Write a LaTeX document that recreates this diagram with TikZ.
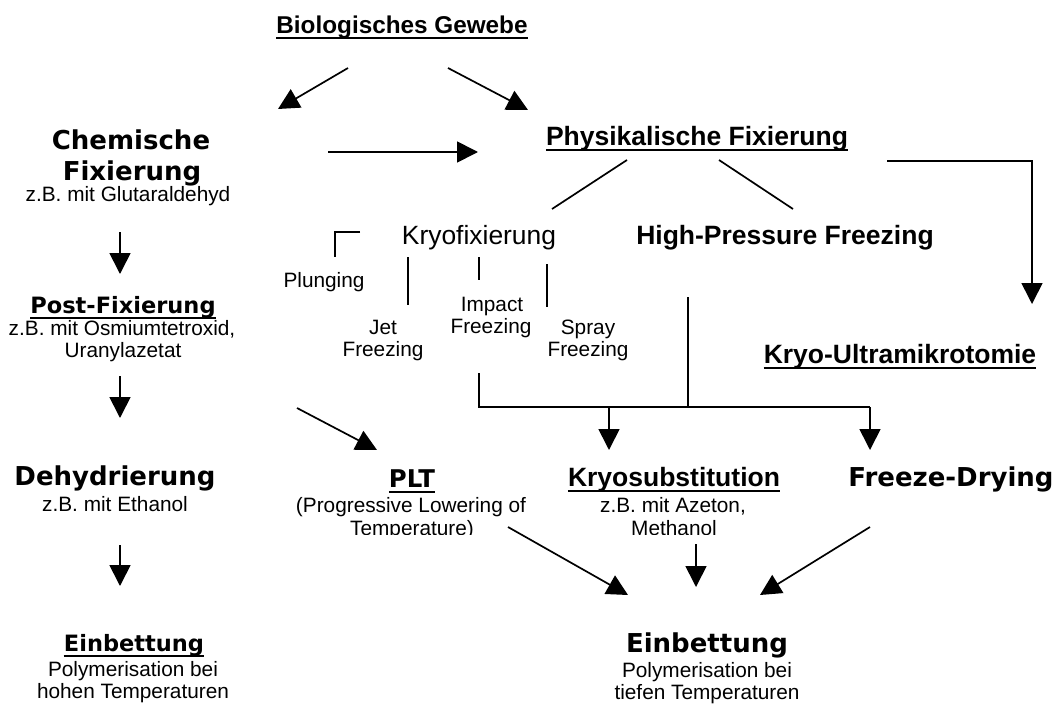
\documentclass[tikz,border=0pt]{standalone}
\usepackage{fontspec}
\setmainfont{Liberation Sans}
\newfontfamily\verd{DejaVu Sans}
\usetikzlibrary{arrows.meta}
\newcommand\myul[2][5pt]{\draw[uline] ([yshift=-#1]#2.base west) -- ([yshift=-#1]#2.base east);}
\begin{document}
\begin{tikzpicture}[x=1pt,y=-1pt,
  txt/.style={inner sep=0pt, anchor=base},
  bA/.style={txt, font=\fontsize{26.5}{30}\selectfont\bfseries},
  bAt/.style={txt, font=\fontsize{24.3}{28}\selectfont\bfseries},
  rA/.style={txt, font=\fontsize{20.8}{24}\selectfont},
  rAl/.style={txt, font=\fontsize{26.4}{30}\selectfont},
  bV/.style={txt, font=\verd\fontsize{26}{30}\selectfont\bfseries},
  bVm/.style={txt, font=\verd\fontsize{24.4}{28}\selectfont\bfseries},
  bVs/.style={txt, font=\verd\fontsize{22.5}{26}\selectfont\bfseries},
  conn/.style={line width=1.7pt},
  arr/.style={conn, -{Triangle[length=21pt,width=21pt]}},
  uline/.style={line width=2pt}]
\useasboundingbox (0,0) rectangle (1060,704);

% ---- texts ----
\node[bAt] (bio) at (402,33) {Biologisches Gewebe}; \myul{bio}
\node[bV] (chem1) at (131,149) {Chemische};
\node[bV] (chem2) at (132,180) {Fixierung};
\node[rA] (chem3) at (128,201) {z.B. mit Glutaraldehyd};
\node[bA] (phys) at (697,145) {Physikalische Fixierung}; \myul{phys}
\node[rAl] (kryo) at (479,244) {Kryofixierung};
\node[bA] (hpf) at (785,244) {High-Pressure Freezing};
\node[rA] (plung) at (324,287) {Plunging};
\node[rA] (jet1) at (383,334) {Jet};
\node[rA] (jet2) at (383,356) {Freezing};
\node[rA] (imp1) at (492,311) {Impact};
\node[rA] (imp2) at (491,333) {Freezing};
\node[rA] (spr1) at (588,334) {Spray};
\node[rA] (spr2) at (588,356) {Freezing};
\node[bA] (kum) at (900,363) {Kryo-Ultramikrotomie}; \myul{kum}
\node[bVs] (post1) at (123,313) {Post-Fixierung}; \myul[4.5pt]{post1}
\node[rA] (post2) at (122,335) {z.B. mit Osmiumtetroxid,};
\node[rA] (post3) at (123,357) {Uranylazetat};
\node[bV] (dehy1) at (115,485) {Dehydrierung};
\node[rA] (dehy2) at (115,511) {z.B. mit Ethanol};
\node[bVm] (plt1) at (412,487) {PLT}; \myul[4.5pt]{plt1}
\node[rA] (plt2) at (411,512) {(Progressive Lowering of};
\node[bA] (ksub1) at (674,486) {Kryosubstitution}; \myul{ksub1}
\node[rA] (ksub2) at (673,512) {z.B. mit Azeton,};
\begin{scope}
  \clip (300,515) rectangle (760,534.6);
  \node[rA] (plt3) at (412,535) {Temperature)};
  \node[rA] (ksub3) at (674,535) {Methanol};
\end{scope}
\node[bV] (fd) at (951,486) {Freeze-Drying};
\node[bVs] (einL1) at (134,651) {Einbettung}; \myul[4.5pt]{einL1}
\node[rA] (einL2) at (133,676) {Polymerisation bei};
\node[rA] (einL3) at (133,698) {hohen Temperaturen};
\node[bV] (einR1) at (707,652) {Einbettung};
\node[rA] (einR2) at (707,677) {Polymerisation bei};
\node[rA] (einR3) at (707,699) {tiefen Temperaturen};

% ---- connector end points ----
\coordinate (bioL) at (348,68);   \coordinate (chemT) at (278,109);
\coordinate (bioR) at (448,68);   \coordinate (physT) at (528,110);
\coordinate (chemR) at (328,152); \coordinate (physL) at (478,152);
\coordinate (physA) at (627,160); \coordinate (kryoT) at (552,209);
\coordinate (physB) at (719,160); \coordinate (hpfT) at (793,209);
\coordinate (physC) at (887,161); \coordinate (kumC) at (1032,161);
\coordinate (kumT) at (1032,304);
\coordinate (plA) at (360,232);   \coordinate (plB) at (335,232); \coordinate (plC) at (335,257);
\coordinate (jetA) at (408,257);  \coordinate (jetB) at (408,305);
\coordinate (impA) at (479,257);  \coordinate (impB) at (479,280);
\coordinate (sprA) at (547,264);  \coordinate (sprB) at (547,307);
\coordinate (impD) at (479,373);  \coordinate (impE) at (479,407);
\coordinate (hpfD) at (688,297);  \coordinate (hpfE) at (688,407);
\coordinate (ksubB) at (609,407); \coordinate (ksubT) at (609,450);
\coordinate (fdB) at (870,407);   \coordinate (fdT) at (870,450);
\coordinate (chemB) at (120,232); \coordinate (postT) at (120,274);
\coordinate (postB) at (120,376); \coordinate (dehyT) at (120,418);
\coordinate (postR) at (297,408); \coordinate (pltT) at (377,450);
\coordinate (dehyB) at (120,545); \coordinate (einLT) at (120,586);
\coordinate (pltB) at (508,527);  \coordinate (einRa) at (628,595);
\coordinate (ksubD) at (696,544); \coordinate (einRb) at (696,587);
\coordinate (fdD) at (870,527);   \coordinate (einRc) at (760,595);

% ---- connectors ----
\draw[arr] (bioL) -- (chemT);
\draw[arr] (bioR) -- (physT);
\draw[arr] (chemR) -- (physL);
\draw[conn] (physA) -- (kryoT);
\draw[conn] (physB) -- (hpfT);
\draw[arr] (physC) -- (kumC) -- (kumT);
\draw[conn] (plA) -- (plB) -- (plC);
\draw[conn] (jetA) -- (jetB);
\draw[conn] (impA) -- (impB);
\draw[conn] (sprA) -- (sprB);
\draw[conn] (impD) -- (impE) -- (fdB);
\draw[conn] (hpfD) -- (hpfE);
\draw[arr] (ksubB) -- (ksubT);
\draw[arr] (fdB) -- (fdT);
\draw[arr] (chemB) -- (postT);
\draw[arr] (postB) -- (dehyT);
\draw[arr] (postR) -- (pltT);
\draw[arr] (dehyB) -- (einLT);
\draw[arr] (pltB) -- (einRa);
\draw[arr] (ksubD) -- (einRb);
\draw[arr] (fdD) -- (einRc);
\end{tikzpicture}
\end{document}
